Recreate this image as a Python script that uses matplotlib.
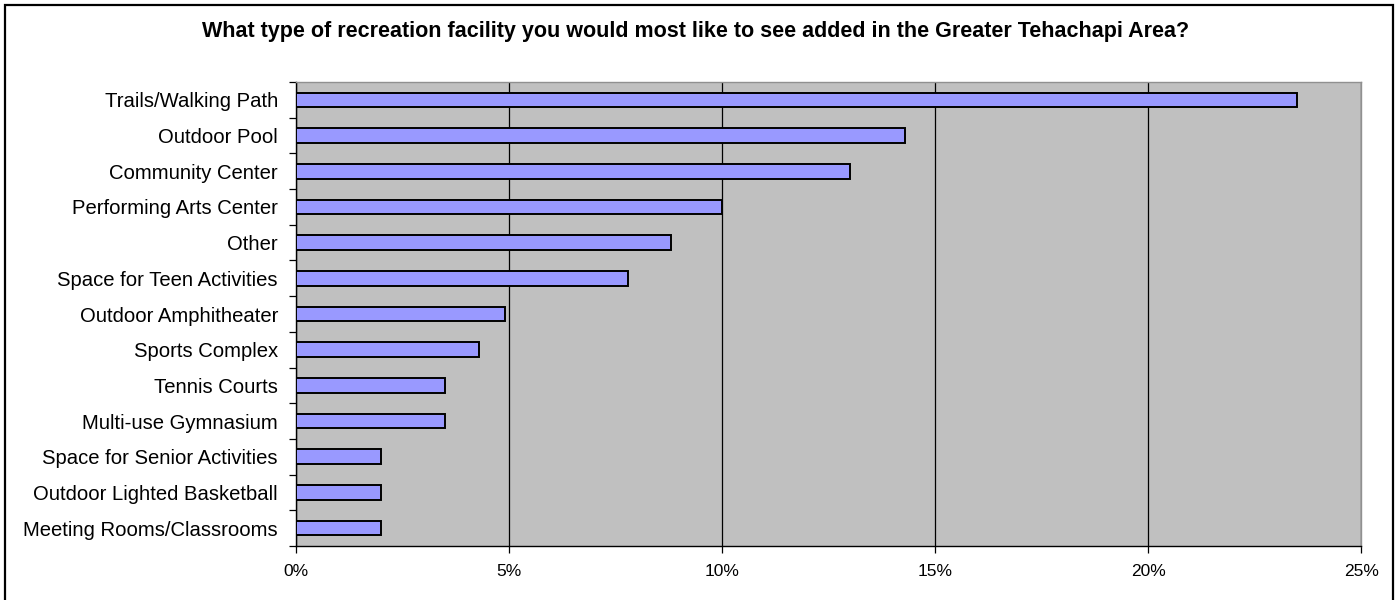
import matplotlib
matplotlib.use('Agg')
import matplotlib.pyplot as plt
from matplotlib.patches import Rectangle
from matplotlib.ticker import FuncFormatter, FixedLocator

# survey answers, top to bottom as in the original chart
facilities = [
    'Trails/Walking Path',
    'Outdoor Pool',
    'Community Center',
    'Performing Arts Center',
    'Other',
    'Space for Teen Activities',
    'Outdoor Amphitheater',
    'Sports Complex',
    'Tennis Courts',
    'Multi-use Gymnasium',
    'Space for Senior Activities',
    'Outdoor Lighted Basketball',
    'Meeting Rooms/Classrooms',
]
percent = [23.5, 14.3, 13.0, 10.0, 8.8, 7.8, 4.9, 4.3, 3.5, 3.5, 2.0, 2.0, 2.0]
x_ticks = [0, 5, 10, 15, 20, 25]

title = 'What type of recreation facility you would most like to see added in the Greater Tehachapi Area?'

plt.rcParams['font.family'] = ['Liberation Sans', 'DejaVu Sans']

fig = plt.figure(figsize=(13.96, 6.0), dpi=100)
fig.patch.set_facecolor('white')

# outer chart border (bottom edge is cut off in the original)
fig.patches.append(Rectangle((5 / 1396, -0.05), 1388 / 1396, 1.05 - 5 / 600,
                             transform=fig.transFigure, fill=False,
                             edgecolor='black', linewidth=1.6))

ax = fig.add_axes([0.212, 0.09, 0.763, 0.7733])
ax.set_facecolor('#C0C0C0')

pos = list(range(len(facilities)))
ax.barh(pos, percent, height=0.41, color='#9999FF', edgecolor='black', linewidth=1.4, zorder=3)

ax.set_xlim(0, 25)
ax.set_ylim(len(facilities) - 0.5, -0.5)

ax.set_xticks(x_ticks)
ax.xaxis.set_major_formatter(FuncFormatter(lambda v, p: f'{v:.0f}%'))
ax.xaxis.grid(True, color='black', linewidth=0.9, zorder=1)
ax.set_axisbelow(True)

ax.set_yticks(pos)
ax.set_yticklabels(facilities)
ax.yaxis.set_minor_locator(FixedLocator([p - 0.5 for p in pos] + [len(pos) - 0.5]))
ax.tick_params(axis='y', which='major', length=0, pad=13, labelsize=14.6)
ax.tick_params(axis='y', which='minor', length=5, width=0.9, direction='out')
ax.tick_params(axis='x', length=5, width=0.9, direction='out', pad=8, labelsize=12.5)

for side in ['left', 'bottom']:
    ax.spines[side].set_color('black')
    ax.spines[side].set_linewidth(1.0)
for side in ['top', 'right']:
    ax.spines[side].set_color('#909090')
    ax.spines[side].set_linewidth(1.0)

fig.text(0.4986, 1 - 32 / 600, title, ha='center', va='center',
         fontsize=15.5, fontweight='bold')

plt.savefig('out.png', dpi=100)
plt.close()
